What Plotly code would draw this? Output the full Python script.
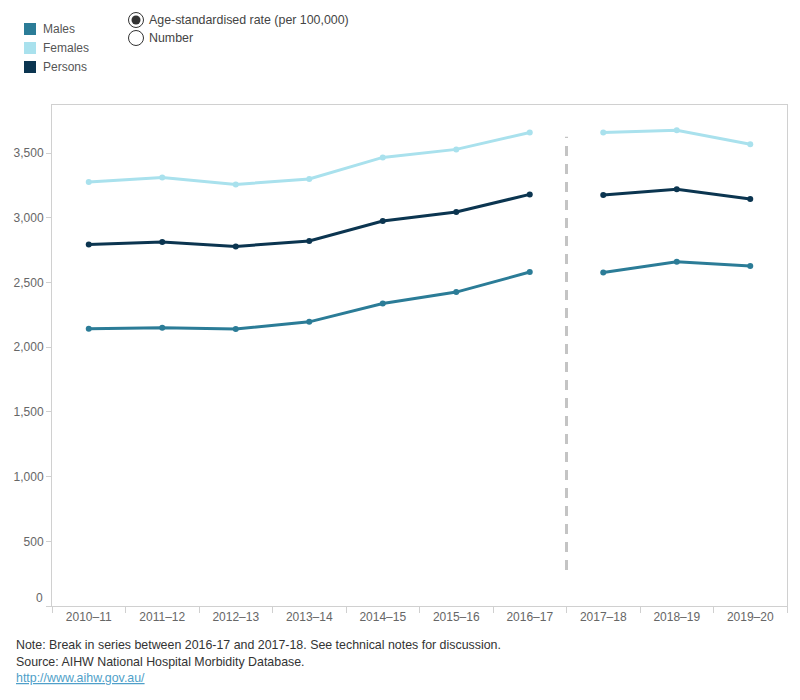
import plotly.graph_objects as go

years = ["2010–11", "2011–12", "2012–13", "2013–14", "2014–15", "2015–16",
         "2016–17", "2017–18", "2018–19", "2019–20"]
females = [3277, 3312, 3258, 3300, 3467, 3529, 3660, 3660, 3676, 3568]
persons = [2794, 2813, 2779, 2821, 2975, 3045, 3181, 3176, 3220, 3145]
males = [2142, 2150, 2140, 2196, 2338, 2426, 2581, 2578, 2660, 2627]
series_names = ["Males", "Females", "Persons"]
series_colors = ["#2b7c97", "#a9e1ed", "#0b3550"]
y_ticks = [0, 500, 1000, 1500, 2000, 2500, 3000, 3500]
break_index = 7  # series break between 2016–17 and 2017–18
footer = ["Note: Break in series between 2016-17 and 2017-18. See technical notes for discussion.",
          "Source: AIHW National Hospital Morbidity Database."]
link = "http://www.aihw.gov.au/"

fig = go.Figure()
data = {"Males": males, "Females": females, "Persons": persons}
for name, col in zip(series_names, series_colors):
    vals = data[name]
    for seg in (range(0, break_index), range(break_index, len(years))):
        fig.add_trace(go.Scatter(
            x=[years[i] for i in seg], y=[vals[i] for i in seg],
            mode="lines+markers", line=dict(color=col, width=3),
            marker=dict(color=col, size=6), showlegend=False, name=name,
            hoverinfo="x+y+name"))

# legend squares and labels
for i, (name, col) in enumerate(zip(series_names, series_colors)):
    ypx = 29 + i * 19
    yp = (606 - ypx) / 501.0
    fig.add_shape(type="rect", xref="paper", yref="paper",
                  xsizemode="pixel", ysizemode="pixel",
                  xanchor=(30 - 52) / 735.0, yanchor=yp,
                  x0=-6, x1=6, y0=-6, y1=6,
                  fillcolor=col, line=dict(width=0))
    fig.add_annotation(text=name, xref="paper", yref="paper",
                       x=(41 - 52) / 735.0, y=yp, xanchor="left", yanchor="middle",
                       showarrow=False, font=dict(size=12, color="#555555"))

# radio buttons
radio_labels = ["Age-standardised rate (per 100,000)", "Number"]
for i, lab in enumerate(radio_labels):
    ypx = 20 + i * 18
    yp = (606 - ypx) / 501.0
    xp = (136 - 52) / 735.0
    fig.add_shape(type="circle", xref="paper", yref="paper",
                  xsizemode="pixel", ysizemode="pixel", xanchor=xp, yanchor=yp,
                  x0=-7.5, x1=7.5, y0=-7.5, y1=7.5,
                  line=dict(color="#333333", width=1), fillcolor="white")
    if i == 0:
        fig.add_shape(type="circle", xref="paper", yref="paper",
                      xsizemode="pixel", ysizemode="pixel", xanchor=xp, yanchor=yp,
                      x0=-4.5, x1=4.5, y0=-4.5, y1=4.5,
                      line=dict(width=0), fillcolor="#333333")
    fig.add_annotation(text=lab, xref="paper", yref="paper",
                       x=(147 - 52) / 735.0, y=yp, xanchor="left", yanchor="middle",
                       showarrow=False, font=dict(size=12.4, color="#444444"))

# break line
fig.add_shape(type="line", xref="x", yref="y", x0=break_index - 0.5, x1=break_index - 0.5,
              y0=278, y1=3627, line=dict(color="#c4c4c4", width=3, dash="10px,8px"))

# "0" label shifted up like the reference
fig.add_annotation(text="0", xref="paper", yref="y", x=0, y=0, xanchor="right",
                   yanchor="middle", xshift=-7, yshift=8, showarrow=False,
                   font=dict(size=12, color="#666666"))

# footer
for i, t in enumerate(footer):
    fig.add_annotation(text=t, xref="paper", yref="paper",
                       x=(14 - 52) / 735.0, y=(606 - (645 + i * 17)) / 501.0,
                       xanchor="left", yanchor="middle", showarrow=False,
                       font=dict(size=12.4, color="#333333"))
fig.add_annotation(text='<a href="%s" style="color:#4f9fc9"><u>%s</u></a>' % (link, link),
                   xref="paper", yref="paper", x=(14 - 52) / 735.0, y=(606 - 678) / 501.0,
                   xanchor="left", yanchor="middle", showarrow=False,
                   font=dict(size=12.4, color="#4f9fc9"))

fig.update_layout(
    width=800, height=700, autosize=False,
    margin=dict(l=52, r=13, t=105, b=94),
    paper_bgcolor="white", plot_bgcolor="white",
    font=dict(family="Liberation Sans, Arial, sans-serif", size=12, color="#666666"),
    showlegend=False,
)
fig.update_xaxes(type="category", categoryorder="array", categoryarray=years,
                 range=[-0.5, len(years) - 0.5], tickson="boundaries",
                 ticks="outside", ticklen=6, tickcolor="#d0d0d0",
                 showline=True, linecolor="#d0d0d0", linewidth=1, mirror=True,
                 showgrid=False, tickfont=dict(size=12, color="#666666"))
fig.update_yaxes(range=[0, 3872], tickvals=y_ticks,
                 ticktext=["" if v == 0 else f"{v:,}" for v in y_ticks],
                 ticks="outside", ticklen=5, tickcolor="#d0d0d0",
                 showline=True, linecolor="#d0d0d0", linewidth=1, mirror=True,
                 showgrid=False, zeroline=False, tickfont=dict(size=12, color="#666666"))

fig.write_html("out.html")
